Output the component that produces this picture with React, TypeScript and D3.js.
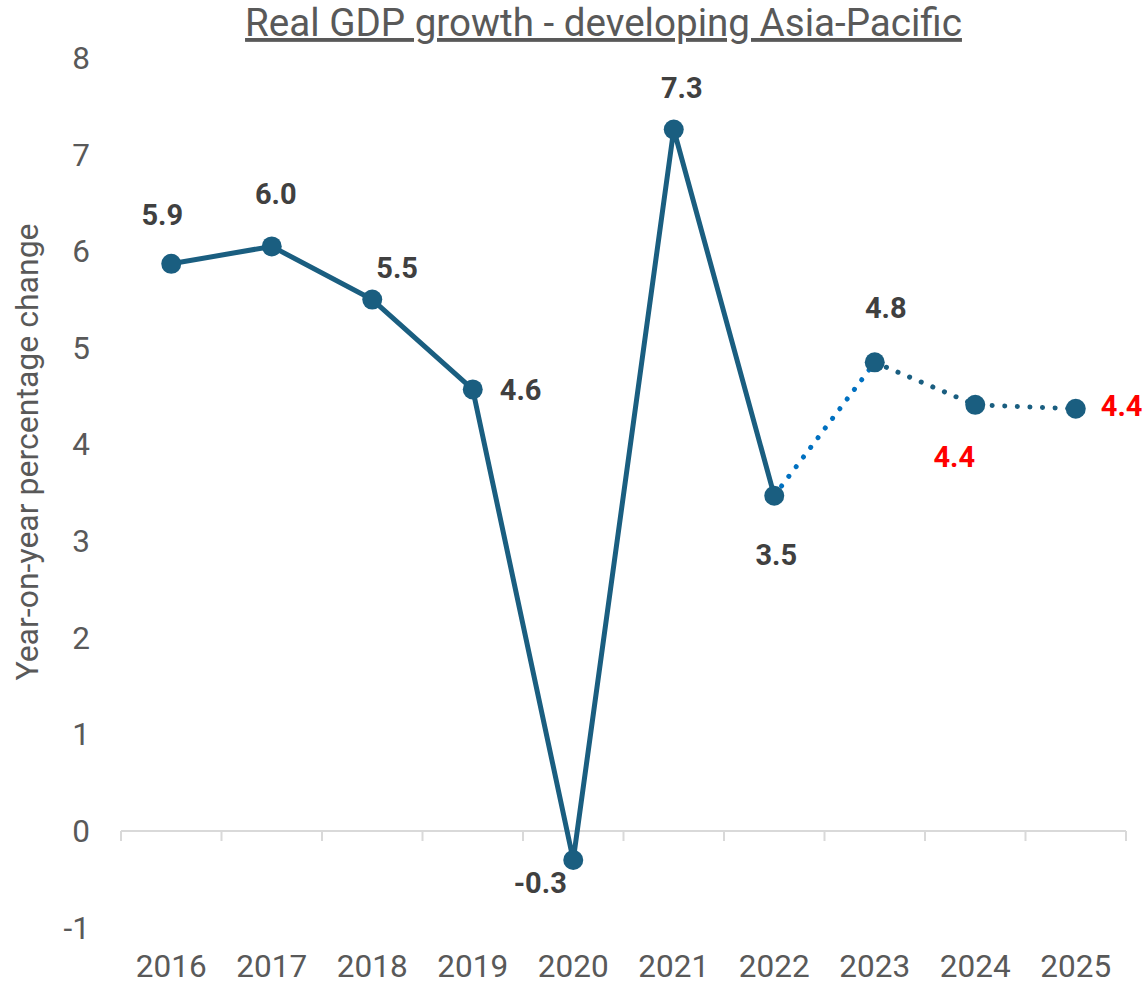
import React from 'react';
import * as d3 from 'd3';

const years = ['2016', '2017', '2018', '2019', '2020', '2021', '2022', '2023', '2024', '2025'];
const growth = [5.87, 6.05, 5.5, 4.57, -0.3, 7.26, 3.47, 4.85, 4.41, 4.37];
const labels = ['5.9', '6.0', '5.5', '4.6', '-0.3', '7.3', '3.5', '4.8', '4.4', '4.4'];
const labelColor = ['#404040', '#404040', '#404040', '#404040', '#404040', '#404040', '#404040', '#404040', '#ff0000', '#ff0000'];
const yTicks = [-1, 0, 1, 2, 3, 4, 5, 6, 7, 8];

// label placement offsets from each point: [dx, dy, anchor]
const labelOffsets: [number, number, string][] = [
  [-9, -39, 'middle'],
  [4, -42, 'middle'],
  [4, -22, 'start'],
  [27, 11, 'start'],
  [-33, 33, 'middle'],
  [8, -32, 'middle'],
  [2, 69, 'middle'],
  [11, -44, 'middle'],
  [-21, 62, 'middle'],
  [25, 7, 'start'],
];

const W = 1145;
const H = 984;
const FONT = 'Roboto, "Noto Sans", sans-serif';

export default function App() {
  const x = d3.scaleBand().domain(years).range([121, 1126]);
  const y = d3.scaleLinear().domain([-1, 8]).range([927.6, 58]);
  const cx = (i: number) => (x(years[i]) as number) + x.bandwidth() / 2;

  const pts = growth.map((v, i) => [cx(i), y(v)] as [number, number]);
  const path = d3.line();
  const solid = path(pts.slice(0, 7)) as string;
  const dotBlue = path(pts.slice(6, 8)) as string;
  const dotDark = path(pts.slice(7)) as string;

  const tickEdges = years.map(yr => x(yr) as number).concat([1126]);

  return (
    <svg width={W} height={H} style={{ position: 'absolute', left: 0, top: 0 }}>
      <rect width={W} height={H} fill="#fff" />
      <text x={603.5} y={36} textAnchor="middle" fontSize={38.6} fill="#595959" fontFamily={FONT}
        textDecoration="underline">Real GDP growth - developing Asia-Pacific</text>
      <text transform={`translate(38,452) rotate(-90)`} textAnchor="middle" fontSize={32}
        fill="#595959" fontFamily={FONT}>Year-on-year percentage change</text>
      {yTicks.map(t => (
        <text key={t} x={90} y={y(t) + 11} textAnchor="end" fontSize={31.5} fill="#595959"
          fontFamily={FONT}>{t}</text>
      ))}
      <line x1={121} x2={1126} y1={y(0)} y2={y(0)} stroke="#d9d9d9" strokeWidth={2} />
      {tickEdges.map((e, i) => (
        <line key={'t' + i} x1={e} x2={e} y1={y(0)} y2={y(0) + 10} stroke="#d9d9d9" strokeWidth={2} />
      ))}
      {years.map((yr, i) => (
        <text key={yr} x={cx(i)} y={977} textAnchor="middle" fontSize={31.5} fill="#595959"
          fontFamily={FONT}>{yr}</text>
      ))}
      <path d={solid} fill="none" stroke="#1a5e80" strokeWidth={5} strokeLinejoin="round" />
      <path d={dotBlue} fill="none" stroke="#0070c0" strokeWidth={5} strokeLinecap="round"
        strokeDasharray="0.1 12" />
      <path d={dotDark} fill="none" stroke="#1a5e80" strokeWidth={5} strokeLinecap="round"
        strokeDasharray="0.1 12.5" />
      {pts.map(([px, py], i) => (
        <circle key={'c' + i} cx={px} cy={py} r={10} fill="#1a5e80" />
      ))}
      {pts.map(([px, py], i) => {
        const [dx, dy, anchor] = labelOffsets[i];
        return (
          <text key={'l' + i} x={px + dx} y={py + dy} textAnchor={anchor} fontSize={29}
            fontWeight={700} fill={labelColor[i]} fontFamily={FONT}>{labels[i]}</text>
        );
      })}
    </svg>
  );
}
